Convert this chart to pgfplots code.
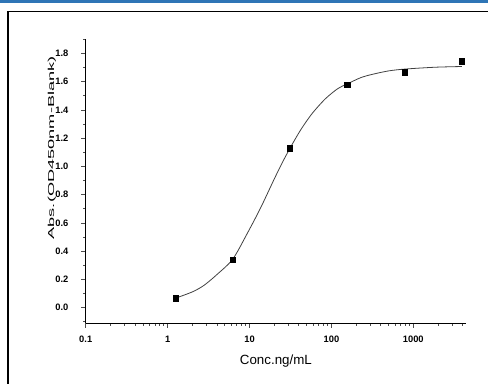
\documentclass[border=0pt]{standalone}
\usepackage{pgfplots}
\pgfplotsset{compat=1.18}
\usepackage{fontspec}
\setmainfont{Liberation Sans}
\usepackage{graphicx}
\definecolor{topblue}{RGB}{46,117,182}
\begin{document}
\begin{tikzpicture}
\useasboundingbox (0,0) rectangle (366pt,287.25pt);
\fill[topblue] (0,285pt) rectangle (366pt,287.25pt);
\draw[line width=1.1pt] (6pt,-5pt) -- (6pt,278.6pt) -- (372pt,278.6pt);
\begin{axis}[
  at={(64.3pt,44.8pt)}, anchor=south west,
  scale only axis, width=285.2pt, height=212.9pt,
  xmode=log, xmin=0.1, xmax=4400, ymin=-0.11, ymax=1.9,
  axis lines=left, axis line style={-, black, line width=0.6pt},
  xtick={0.1,1,10,100,1000}, xticklabels={0.1,1,10,100,1000},
  minor xtick={0.2,0.3,0.4,0.5,0.6,0.7,0.8,0.9,2,3,4,5,6,7,8,9,20,30,40,50,60,70,80,90,200,300,400,500,600,700,800,900,2000,3000,4000},
  ytick={0,0.2,0.4,0.6,0.8,1.0,1.2,1.4,1.6,1.8},
  yticklabels={0.0,0.2,0.4,0.6,0.8,1.0,1.2,1.4,1.6,1.8},
  minor ytick={-0.1,0.1,0.3,0.5,0.7,0.9,1.1,1.3,1.5,1.7,1.9},
  tick align=outside, major tick length=3.5pt, minor tick length=2pt,
  tick style={black!70, line width=0.6pt},
  ticklabel style={font=\fontsize{7}{8}\selectfont\bfseries},
  xticklabel style={yshift=-2.5pt}, yticklabel style={xshift=-6pt},
  xlabel={Conc.ng/mL},
  ylabel={\scalebox{2.1}[1]{Abs.(OD450nm-Blank)}},
  xlabel style={at={(axis description cs:0.5,-0.133)}, anchor=center, font=\fontsize{10}{12}\selectfont},
  ylabel style={at={(axis description cs:-0.089,0.618)}, anchor=center, font=\fontsize{6.5}{8}\selectfont},
]
\addplot[no marks, black!75, line width=0.6pt, smooth] coordinates {
(1.25,0.068) (2.0,0.112) (2.77,0.158) (4.0,0.235) (6.25,0.345) (9.38,0.526)
(13.6,0.705) (19.8,0.905) (25,1.025) (31.25,1.130) (40,1.238) (48.2,1.31) (60,1.385)
(84.5,1.48) (120,1.552) (156.25,1.585) (230,1.630) (313,1.652) (500,1.677)
(798,1.690) (1853,1.703) (3906,1.708)};
\addplot[only marks, mark=square*, mark size=2pt, black] coordinates {
(1.25,0.068) (6.25,0.341) (31.25,1.13) (156.25,1.577) (781.25,1.667) (3906.25,1.745)};
\end{axis}
\end{tikzpicture}
\end{document}
